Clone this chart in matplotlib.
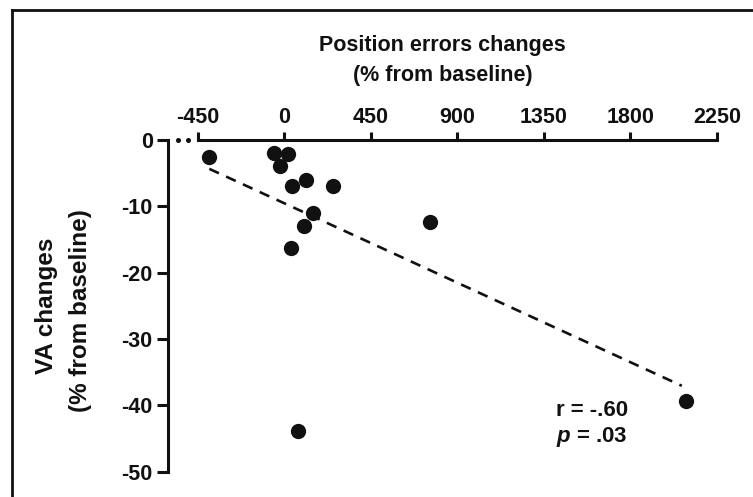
import numpy as np
import matplotlib
matplotlib.use("Agg")
import matplotlib.pyplot as plt
from matplotlib.lines import Line2D

plt.rcParams['font.family'] = ['Liberation Sans', 'DejaVu Sans']
plt.rcParams['font.weight'] = 'bold'
plt.rcParams['mathtext.fontset'] = 'custom'
plt.rcParams['mathtext.it'] = 'Liberation Sans:italic:bold'
plt.rcParams['mathtext.rm'] = 'Liberation Sans:bold'

# Data
pos_err_change = [-391, -52, 20, -23, 112, 41, 251, 150, 102, 34, 757, 2089, 69]
va_change = [-2.6, -2.0, -2.1, -3.9, -6.0, -7.0, -6.9, -11.0, -13.0, -16.3, -12.3, -39.3, -43.8]
x_ticks = [-450, 0, 450, 900, 1350, 1800, 2250]
y_ticks = [0, -10, -20, -30, -40, -50]
r_text = "r = -.60"
p_text = "$p$ = .03"

W, H = 753, 497
fig = plt.figure(figsize=(W / 100, H / 100), dpi=100)
fig.patch.set_facecolor('white')

ax_l, ax_r, ax_t, ax_b = 168, 717, 140, 471.7
ax = fig.add_axes([ax_l / W, 1 - ax_b / H, (ax_r - ax_l) / W, (ax_b - ax_t) / H])

x = np.array(pos_err_change, dtype=float)
y = np.array(va_change, dtype=float)

ax.set_xlim(-606, 2250)
ax.set_ylim(-50, 0)

# regression line
slope, intercept = np.polyfit(x, y, 1)
xl = np.array([x.min(), x.max() - 22])
ax.plot(xl, slope * xl + intercept, color='#111111', lw=1.9, dashes=(4, 3), zorder=2)

ax.plot(x, y, 'o', color='#111111', markersize=11, markeredgewidth=0, zorder=3)

# spines
for s in ['bottom', 'right']:
    ax.spines[s].set_visible(False)
for s in ['top', 'left']:
    ax.spines[s].set_linewidth(2.2)
    ax.spines[s].set_color('#111111')
ax.spines['top'].set_bounds(-450, 2250)

# dotted axis-break segment
ax.plot([-554, -502], [0, 0], linestyle='none', marker='o', markersize=2.6,
        color='#111111', clip_on=False)

ax.xaxis.tick_top()
ax.set_xticks(x_ticks)
ax.set_xticklabels([str(v) for v in x_ticks])
ax.set_yticks(y_ticks)
ax.set_yticklabels([str(v) for v in y_ticks])
ax.tick_params(axis='x', which='both', top=True, bottom=False, direction='out',
               length=5.5, width=2.2, pad=3, labelsize=15.5, colors='#111111')
ax.tick_params(axis='y', direction='out', length=8, width=2.2, pad=3,
               labelsize=15.5, colors='#111111')
for lbl in ax.get_xticklabels() + ax.get_yticklabels():
    lbl.set_fontweight('bold')

ax.patch.set_alpha(0)

# titles
cx = (ax_l + ax_r) / 2 / W
fig.text(cx, 1 - 45 / H, "Position errors changes", ha='center', va='center',
         fontsize=15.5, fontweight='bold', color='#111111')
fig.text(cx, 1 - 75 / H, "(% from baseline)", ha='center', va='center',
         fontsize=15.5, fontweight='bold', color='#111111')

cy = 1 - (ax_t + ax_b) / 2 / H
fig.text(47 / W, cy, "VA changes", ha='center', va='center', rotation=90,
         fontsize=17.5, fontweight='bold', color='#111111')
fig.text(80 / W, cy - 0.01, "(% from baseline)", ha='center', va='center', rotation=90,
         fontsize=17.5, fontweight='bold', color='#111111')

# stats annotation
fig.text(628 / W, 1 - 410 / H, r_text, ha='right', va='center',
         fontsize=16, fontweight='bold', color='#111111')
fig.text(628 / W, 1 - 437 / H, p_text, ha='right', va='center',
         fontsize=16, fontweight='bold', color='#111111')

# outer frame (top and left only, as in the cropped reference)
fig.add_artist(Line2D([12 / W, 1.0], [1 - 10 / H, 1 - 10 / H], transform=fig.transFigure,
                      color='#111111', lw=2))
fig.add_artist(Line2D([12 / W, 12 / W], [1 - 10 / H, 0.0], transform=fig.transFigure,
                      color='#111111', lw=2))

fig.savefig("out.png", dpi=100, facecolor='white')
